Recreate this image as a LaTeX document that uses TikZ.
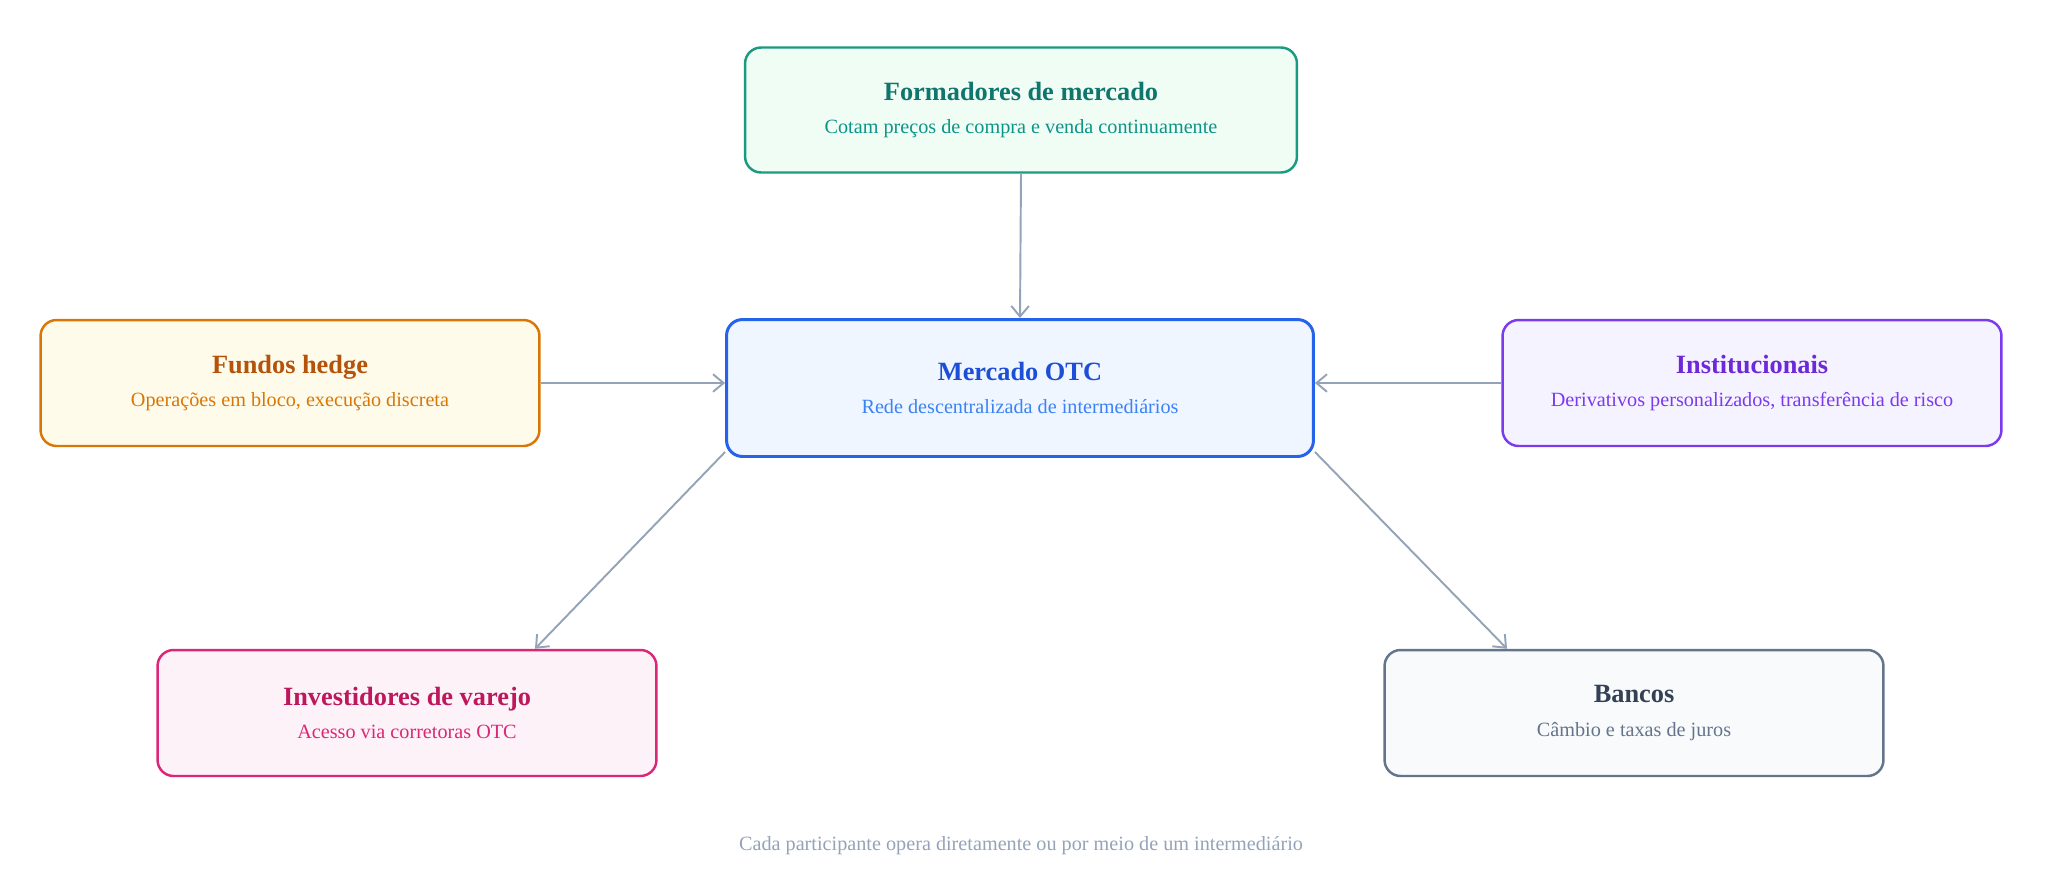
\documentclass[tikz,border=0pt]{standalone}
\usepackage{fontspec}
\setmainfont{Liberation Serif}
\usetikzlibrary{arrows.meta,calc}
\definecolor{linkgray}{HTML}{94A3B8}
\tikzset{
  party/.style 2 args={draw=#1, fill=#2, line width=1.4pt, rounded corners=0.32cm,
    minimum width=9.98cm, minimum height=2.52cm, inner sep=0pt, align=center},
  link/.style={draw=linkgray, line width=1.1pt, -{Straight Barb[length=6pt,width=10pt]}},
  sub/.style={font=\fontsize{11.5}{14}\selectfont}
}
\newcommand{\partytext}[4]{{\color[HTML]{#1}\fontsize{15}{18}\selectfont\bfseries #3}\\[7pt]{\color[HTML]{#2}\fontsize{11.5}{14}\selectfont #4}}
\begin{document}
\begin{tikzpicture}[x=0.02cm, y=-0.02cm]
\useasboundingbox (0,0) rectangle (2048,893);
\definecolor{otcline}{HTML}{2563EB}\definecolor{otcfill}{HTML}{EFF6FF}
\definecolor{formline}{HTML}{1A9A80}\definecolor{formfill}{HTML}{F0FDF4}
\definecolor{fundline}{HTML}{D97706}\definecolor{fundfill}{HTML}{FFFBEB}
\definecolor{instline}{HTML}{7C3AED}\definecolor{instfill}{HTML}{F5F3FF}
\definecolor{invline}{HTML}{DB2777}\definecolor{invfill}{HTML}{FDF2F8}
\definecolor{bankline}{HTML}{64748B}\definecolor{bankfill}{HTML}{F8FAFC}

% central market
\node[party={otcline}{otcfill}, line width=1.7pt, minimum width=11.74cm, minimum height=2.74cm] (otc) at (1020,388)
  {\partytext{1D4ED8}{3B82F6}{Mercado OTC}{Rede descentralizada de intermediários}};

% participants
\node[party={formline}{formfill}, minimum width=11.04cm, minimum height=2.5cm] (form) at (1021,110)
  {\partytext{0F766E}{0D9488}{Formadores de mercado}{Cotam preços de compra e venda continuamente}};
\node[party={fundline}{fundfill}] (fund) at (290,383)
  {\partytext{B45309}{D97706}{Fundos hedge}{Operações em bloco, execução discreta}};
\node[party={instline}{instfill}] (inst) at (1752,383)
  {\partytext{6D28D9}{7C3AED}{Institucionais}{Derivativos personalizados, transferência de risco}};
\node[party={invline}{invfill}] (inv) at (407,713)
  {\partytext{BE185D}{DB2777}{Investidores de varejo}{Acesso via corretoras OTC}};
\node[party={bankline}{bankfill}] (bank) at (1634,713)
  {\partytext{334155}{64748B}{Bancos}{Câmbio e taxas de juros}};

% connectors
\draw[link] (form.south) -- (otc.north);
\draw[link] (fund.east) -- (fund.east -| otc.west);
\draw[link] (inst.west) -- (inst.west -| otc.east);
\draw[link] ($(otc.south west)+(0,-6)$) -- ($(inv.north)+(128,0)$);
\draw[link] ($(otc.south east)+(0,-6)$) -- ($(bank.north)+(-127,0)$);

\node[sub, text=linkgray] (note) at (1021,846) {Cada participante opera diretamente ou por meio de um intermediário};
\end{tikzpicture}
\end{document}
